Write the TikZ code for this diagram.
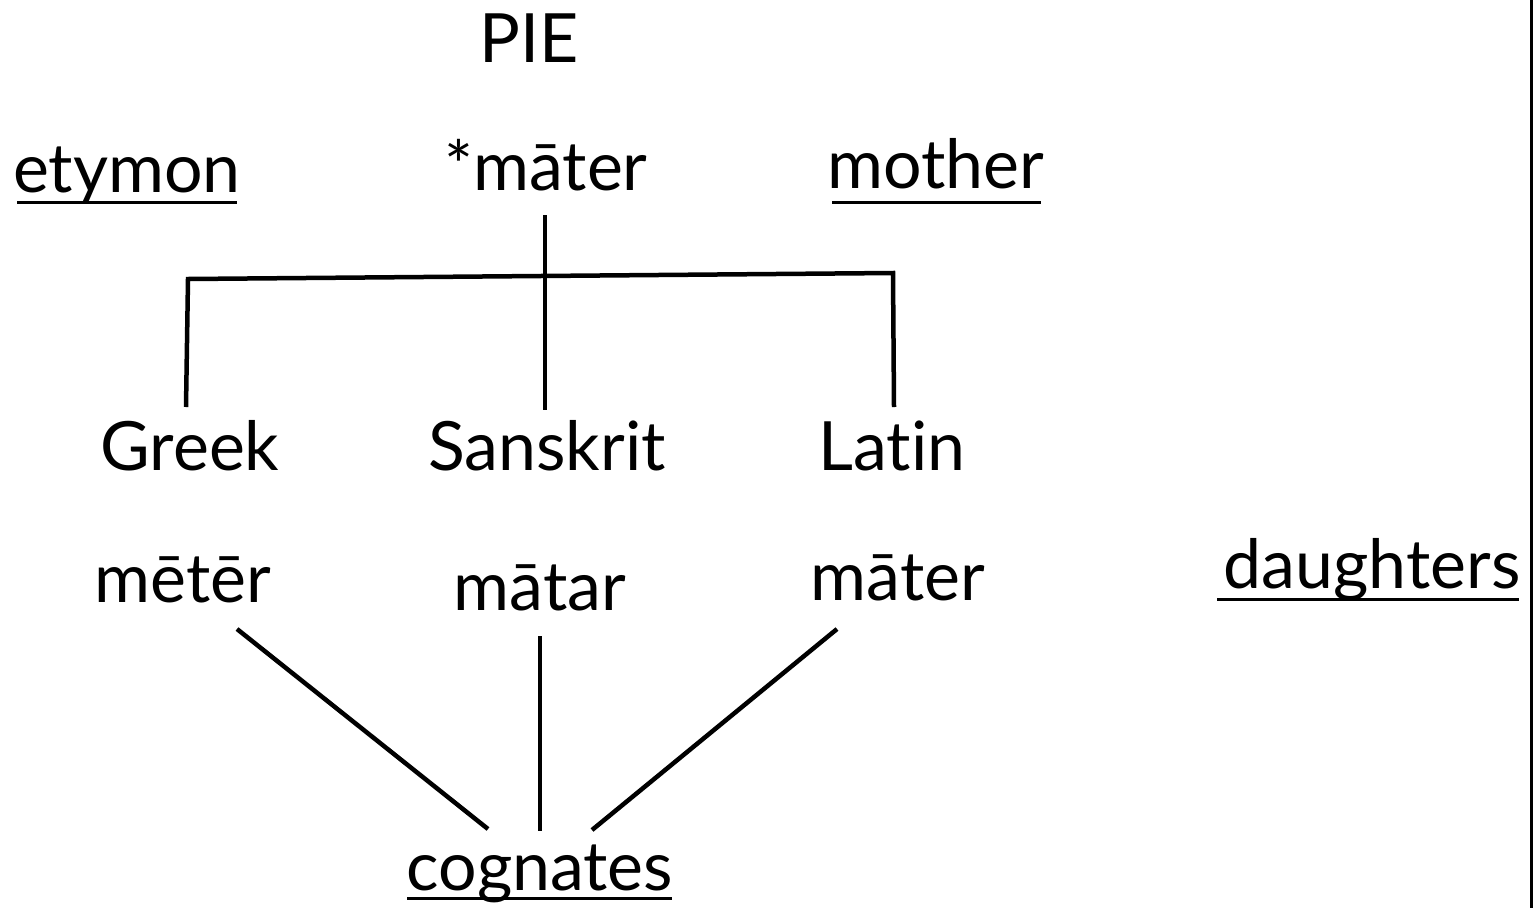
\documentclass[tikz,border=0pt]{standalone}
\usepackage{fontspec}
\setmainfont[Ligatures=NoCommon]{Lato}
\begin{document}
\begin{tikzpicture}[x=1pt,y=-1pt,
  word/.style={anchor=base,inner sep=0pt,font=\fontsize{68}{72}\selectfont},
  link/.style={line width=4.5pt},
  uline/.style={line width=3pt}]
\useasboundingbox (0,0) rectangle (1536,908);
% border line at right
\draw[line width=3pt] (1531,0) -- (1531,908);
% words
\node[word] (pie) at (529,62) {PIE};
\node[word] (mater) at (546,190) {*māter};
\node[word] (etymon) at (127,192) {etymon};
\node[word] (mother) at (936,188) {mother};
\node[word] (greek) at (190,470) {Greek};
\node[word] (sanskrit) at (547,470) {Sanskrit};
\node[word] (latin) at (892,470) {Lat\kern0ptin};
\node[word] (meter) at (183,602) {mētēr};
\node[word] (matar) at (540,610) {mātar};
\node[word] (lmater) at (898,600) {māter};
\node[word] (daughters) at (1372,588) {daughters};
\node[word] (cognates) at (540,890) {cognates};
% underlines
\coordinate (u1a) at (17,202);  \coordinate (u1b) at (237,202);
\coordinate (u2a) at (832,202); \coordinate (u2b) at (1041,202);
\coordinate (u3a) at (1217,599); \coordinate (u3b) at (1519,599);
\coordinate (u4a) at (407,898); \coordinate (u4b) at (672,898);
\draw[uline] (u1a) -- (u1b);
\draw[uline] (u2a) -- (u2b);
\draw[uline] (u3a) -- (u3b);
\draw[uline] (u4a) -- (u4b);
% tree
\coordinate (t0) at (545,215);
\coordinate (t1) at (545,410);
\coordinate (hl) at (188,279);
\coordinate (hr) at (893,273);
\coordinate (gl) at (186,407);
\coordinate (lr) at (894,407);
\draw[link] (t0) -- (t1);
\draw[link] (gl) -- (hl) -- (hr) -- (lr);
% cognates links
\coordinate (c1a) at (237,629); \coordinate (c1b) at (488,829);
\coordinate (c2a) at (540,636); \coordinate (c2b) at (540,831);
\coordinate (c3a) at (837,629); \coordinate (c3b) at (592,830);
\draw[link] (c1a) -- (c1b);
\draw[link] (c2a) -- (c2b);
\draw[link] (c3a) -- (c3b);
\end{tikzpicture}
\end{document}
